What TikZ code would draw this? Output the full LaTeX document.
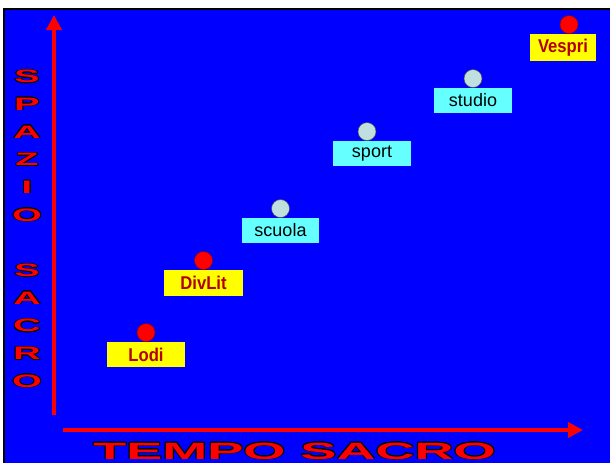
\documentclass[tikz,border=0pt]{standalone}
\usepackage{fontspec}
\setmainfont{Liberation Sans}
\usepackage{xcolor}
\usepackage{graphicx}
\usepackage[copies]{contour}
\usepackage{tikz}
\usetikzlibrary{arrows.meta,positioning}

\definecolor{slideblue}{RGB}{0,0,255}
\definecolor{tagyellow}{RGB}{255,255,0}
\definecolor{tagcyan}{RGB}{102,255,255}
\definecolor{tagtext}{RGB}{176,0,0}
\definecolor{dotpale}{RGB}{192,224,224}
\contourlength{0.5pt}
\contournumber{12}
\newcommand{\wideletter}[1]{\scalebox{2.1}[1]{\contour{black}{#1}}}
\newcommand{\narrowtag}[1]{\scalebox{0.9}[1]{#1}}

\begin{document}
\begin{tikzpicture}[
  x=1pt,y=-1pt,
  axis/.style={-{Triangle[length=15pt,width=15pt]},draw=red,line width=4.5pt},
  axislabel/.style={text=red,inner sep=0pt,font=\bfseries\fontsize{18}{27.7}\selectfont,align=center},
  tagred/.style={fill=tagyellow,minimum width=78pt,minimum height=25pt,inner sep=0pt,text=tagtext,font=\bfseries\fontsize{18.5}{18.5}\selectfont},
  tagblue/.style={fill=tagcyan,minimum width=78pt,minimum height=25pt,inner sep=0pt,text=black,font=\fontsize{18}{18}\selectfont},
  dotred/.style={circle,fill=red,draw=red!55!black,line width=0.5pt,minimum size=18pt,inner sep=0pt},
  dotgray/.style={circle,fill=dotpale,draw=black!70,line width=0.5pt,minimum size=18pt,inner sep=0pt}
]
  \useasboundingbox (0,0) rectangle (610,463);
  \fill[white] (0,0) rectangle (610,463);
  \fill[slideblue] (4,9) rectangle (610,463);
  \draw[black,line width=2pt] (4,463) -- (4,9) -- (610,9);

  % axes
  \coordinate (ybot) at (54,415);
  \coordinate (ytop) at (54,15);
  \coordinate (xleft) at (63,430);
  \coordinate (xright) at (583,430);
  \draw[axis] (ybot) -- (ytop);
  \draw[axis] (xleft) -- (xright);

  \node[axislabel] (spazio) at (27,229) {\wideletter{S}\\\wideletter{P}\\\wideletter{A}\\\wideletter{Z}\\\wideletter{I}\\\wideletter{O}\\[27.7pt]\wideletter{S}\\\wideletter{A}\\\wideletter{C}\\\wideletter{R}\\\wideletter{O}};
  \node[axislabel,anchor=base,font=\bfseries\fontsize{23.5}{23.5}\selectfont] (tempo) at (294.5,459) {\scalebox{2.3}[1]{\contour{black}{TEMPO SACRO}}};

  % tags
  \node[tagred] (lodi) at (146,354.5) {\narrowtag{Lodi}};
  \node[tagred,minimum width=79pt,minimum height=26pt] (divlit) at (203.5,283) {\narrowtag{DivLit}};
  \node[tagblue,minimum width=77pt] (scuola) at (280.5,230.5) {scuola};
  \node[tagblue] (sport) at (372,153.5) {sport};
  \node[tagblue] (studio) at (473,100.5) {studio};
  \node[tagred,minimum width=66pt,minimum height=27pt] (vespri) at (563,47.5) {\narrowtag{Vespri}};

  \node[dotred,above=0pt of lodi] (lodidot) {};
  \node[dotred,above=0pt of divlit] (divlitdot) {};
  \node[dotgray,above=0pt of scuola] (scuoladot) {};
  \node[dotgray,above=0pt of sport,xshift=-5pt] (sportdot) {};
  \node[dotgray,above=0pt of studio] (studiodot) {};
  \node[dotred,above=0pt of vespri,xshift=6pt] (vespridot) {};
\end{tikzpicture}
\end{document}
